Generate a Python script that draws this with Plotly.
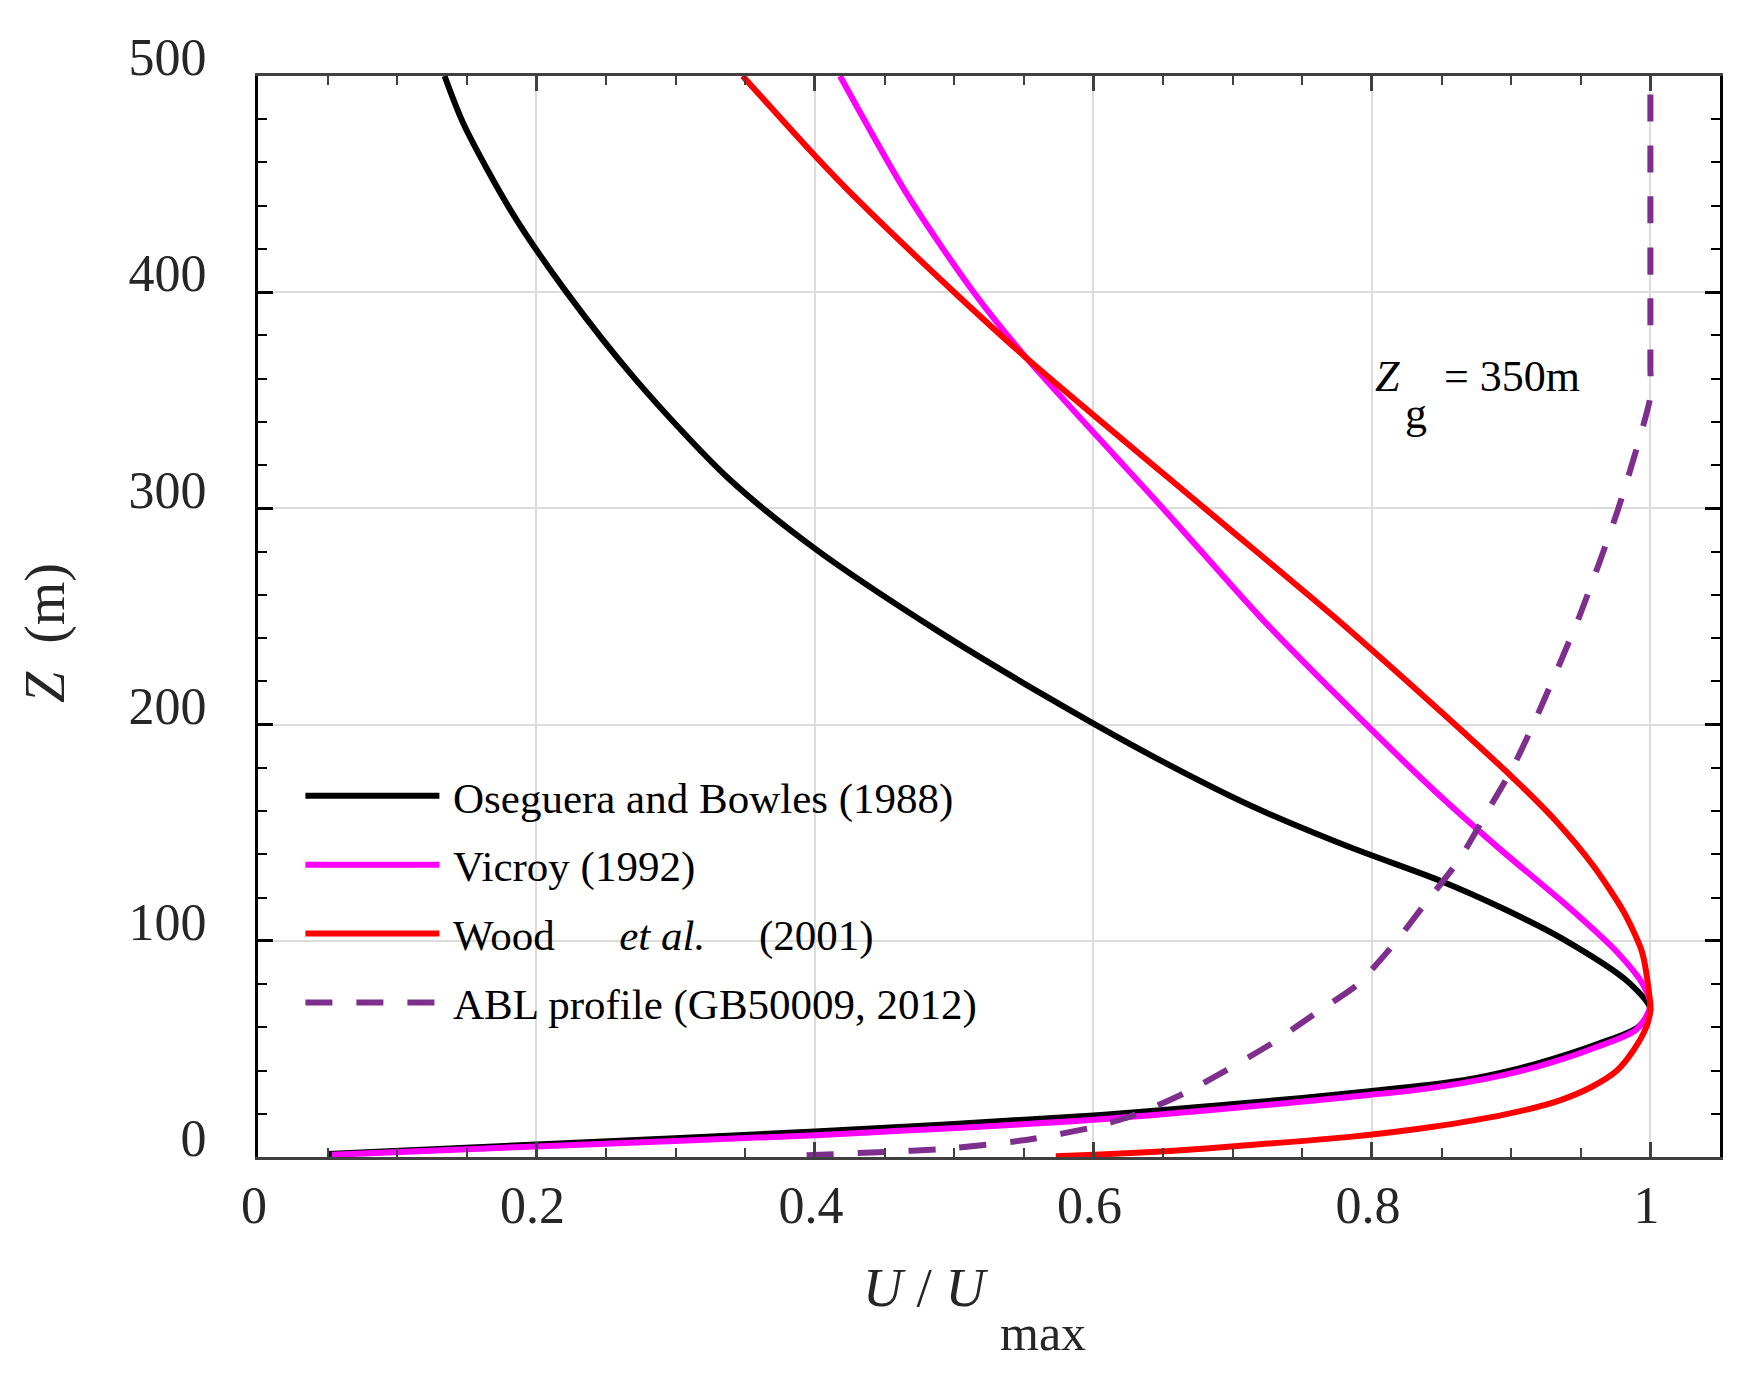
import plotly.graph_objects as go

# values (U/Umax vs height Z in m)
ob_z = [1.4, 5.8, 11.8, 19.2, 24.7, 30.5, 35.5, 40, 46, 52.5, 60, 68, 81, 100.9,
        114.7, 127.8, 143.6, 162.8, 185.9, 212.7, 243.8, 281.4, 314.4, 359, 400.5,
        437.3, 477.3, 500]
ob_u = [0.05, 0.20, 0.40, 0.60, 0.705, 0.80, 0.866, 0.900, 0.933, 0.963, 0.991, 1.0,
        0.984, 0.937, 0.895, 0.849, 0.783, 0.712, 0.641, 0.567, 0.487, 0.40, 0.337,
        0.272, 0.221, 0.182, 0.148, 0.134]

vic_z = [1, 4.9, 10.1, 17.2, 23.2, 27.8, 31.5, 37.5, 43.5, 50.5, 59, 70, 79.4, 94.8,
         116.3, 142.4, 170, 211.5, 250.3, 300, 369.5, 400, 444.4, 500]
vic_u = [0.053, 0.20, 0.40, 0.60, 0.71, 0.784, 0.838, 0.892, 0.928, 0.96, 0.99, 1.0,
         0.995, 0.976, 0.940, 0.892, 0.844, 0.778, 0.719, 0.650, 0.552, 0.514, 0.467,
         0.418]

wood_z = [0.3, 1.2, 2.8, 5.4, 9.3, 14, 19.6, 26, 32.5, 40, 49.5, 60, 68, 73.3, 94.8,
          113.2, 134.7, 156.2, 176.2, 194.6, 211.5, 250.3, 300, 369.5, 400, 444.4,
          463.8, 500]
wood_u = [0.573, 0.605, 0.655, 0.71, 0.784, 0.844, 0.895, 0.934, 0.958, 0.976, 0.988,
          0.997, 1.0, 0.9995, 0.994, 0.981, 0.959, 0.931, 0.900, 0.869, 0.840, 0.772,
          0.680, 0.552, 0.500, 0.428, 0.399, 0.348]

abl_z = [0.8, 2.2, 3.8, 8.3, 13.8, 17.8, 21.6, 29.4, 40, 52.5, 60, 68, 79.4, 97.8,
         117.8, 137.8, 159.3, 180.8, 203.8, 250, 300, 351.7, 365, 400, 450, 500]
abl_u = [0.394, 0.445, 0.494, 0.556, 0.60, 0.622, 0.638, 0.665, 0.695, 0.728, 0.745,
         0.763, 0.789, 0.815, 0.839, 0.863, 0.8825, 0.9017, 0.9185, 0.949, 0.977, 1.0,
         1.0, 1.0, 1.0, 1.0]

x_ticks = [0, 0.2, 0.4, 0.6, 0.8, 1]
x_labels = ['0', '0.2', '0.4', '0.6', '0.8', '1']
y_ticks = [0, 100, 200, 300, 400, 500]

serif = 'Liberation Serif, Times New Roman, serif'

fig = go.Figure()
fig.add_trace(go.Scatter(x=ob_u, y=ob_z, mode='lines',
                         name='\u2009Oseguera and Bowles (1988)',
                         line=dict(color='#000000', width=6, shape='spline', smoothing=0.8),
                         legendgroup='a'))
fig.add_trace(go.Scatter(x=vic_u, y=vic_z, mode='lines', name='\u2009Vicroy (1992)',
                         line=dict(color='#ff00ff', width=6, shape='spline', smoothing=0.8),
                         legendgroup='b'))
fig.add_trace(go.Scatter(x=wood_u, y=wood_z, mode='lines',
                         name='\u2009Wood      <i>et al.</i>     (2001)',
                         line=dict(color='#ff0000', width=6, shape='spline', smoothing=0.7),
                         legendgroup='c'))
fig.add_trace(go.Scatter(x=abl_u, y=abl_z, mode='lines',
                         name='\u2009ABL profile (GB50009, 2012)',
                         line=dict(color='#7e2f8e', width=6, dash='27px,24px',
                                   shape='spline', smoothing=0.6),
                         legendgroup='d'))

axis_common = dict(ticks='inside', ticklen=15, tickwidth=2.5, showgrid=True,
                   gridcolor='#dcdcdc', gridwidth=1.5, zeroline=False, showline=True,
                   linewidth=3, mirror='ticks',
                   tickfont=dict(family=serif, size=52, color='#262626'))

fig.update_xaxes(range=[0, 1.05], tickvals=x_ticks, ticktext=x_labels,
                 linecolor='#404040', tickcolor='#404040',
                 ticklabelstandoff=1, ticklabelshift=-4,
                 minor=dict(dtick=0.05, ticks='inside', ticklen=9, tickwidth=2,
                            tickcolor='#404040', showgrid=False),
                 **axis_common)
fig.update_yaxes(range=[0, 500], tickvals=y_ticks,
                 linecolor='#000000', tickcolor='#000000',
                 ticklabelstandoff=38, ticklabelshift=-19,
                 minor=dict(dtick=20, ticks='inside', ticklen=9, tickwidth=2,
                            tickcolor='#000000', showgrid=False),
                 **axis_common)

# page body adds an 8px margin, so the figure is 16px smaller than the window
fig.update_layout(
    width=1739, height=1364,
    margin=dict(l=250, r=27, t=68, b=215),
    plot_bgcolor='white', paper_bgcolor='white',
    font=dict(family=serif, color='#000000'),
    showlegend=True,
    legend=dict(x=0.029, y=0.366, xanchor='left', yanchor='top',
                bgcolor='rgba(0,0,0,0)', borderwidth=0,
                font=dict(family=serif, size=43, color='#000000'),
                itemwidth=134, tracegroupgap=10, traceorder='grouped'),
    annotations=[
        dict(text='<i>U</i> / <i>U</i>', xref='paper', yref='paper', x=0.457, y=-0.121,
             showarrow=False, font=dict(family=serif, size=55, color='#262626'),
             xanchor='center', yanchor='middle'),
        dict(text='max', xref='paper', yref='paper', x=0.537, y=-0.163,
             showarrow=False, font=dict(family=serif, size=50, color='#262626'),
             xanchor='center', yanchor='middle'),
        dict(text='<i>Z</i>  (m)', xref='paper', yref='paper', x=-0.1455, y=0.485,
             showarrow=False, textangle=-90, font=dict(family=serif, size=56, color='#262626'),
             xanchor='center', yanchor='middle'),
        dict(text='<i>Z</i>', xref='x', yref='y', x=0.8005, y=361, showarrow=False,
             xanchor='left', yanchor='middle', font=dict(family=serif, size=44)),
        dict(text='g', xref='x', yref='y', x=0.822, y=344, showarrow=False,
             xanchor='left', yanchor='middle', font=dict(family=serif, size=44)),
        dict(text='= 350m', xref='x', yref='y', x=0.850, y=361, showarrow=False,
             xanchor='left', yanchor='middle', font=dict(family=serif, size=44)),
    ],
)

fig.write_html('out.html')
